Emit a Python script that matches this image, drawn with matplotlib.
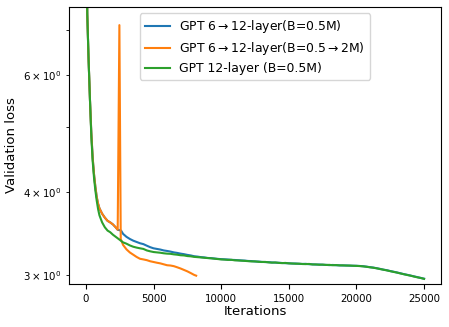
import numpy as np
import matplotlib
matplotlib.use("Agg")
import matplotlib.pyplot as plt

# ---- data ----
early_iters = [0, 100, 200, 300, 400, 500, 600, 700, 800, 900, 1000, 1200, 1400, 1600, 1800, 2000, 2250, 2500]
green_early = [10.9, 7.4, 6.3, 5.5, 4.85, 4.45, 4.2, 4.02, 3.88, 3.77, 3.69, 3.60, 3.54, 3.50, 3.48, 3.45, 3.42, 3.39]

late_start = 2750
green_late = [
    3.360, 3.345, 3.325, 3.310, 3.300, 3.292, 3.285, 3.268, 3.258, 3.250,
    3.246, 3.242, 3.236, 3.232, 3.230, 3.224, 3.220, 3.214, 3.212, 3.205,
    3.202, 3.196, 3.193, 3.190, 3.186, 3.183, 3.180, 3.176, 3.172, 3.168,
    3.166, 3.163, 3.164, 3.158, 3.157, 3.154, 3.152, 3.149, 3.146, 3.147,
    3.142, 3.140, 3.141, 3.136, 3.133, 3.135, 3.130, 3.128, 3.130, 3.125,
    3.124, 3.121, 3.122, 3.118, 3.117, 3.119, 3.113, 3.114, 3.110, 3.112,
    3.108, 3.109, 3.105, 3.107, 3.103, 3.104, 3.101, 3.102, 3.099, 3.098,
    3.096, 3.093, 3.088, 3.083, 3.078, 3.072, 3.064, 3.057, 3.050, 3.042,
    3.034, 3.027, 3.018, 3.010, 3.002, 2.995, 2.986, 2.978, 2.971, 2.962,
]

orange_pre_iters = [0, 100, 200, 300, 400, 500, 600, 700, 800, 900, 1000, 1200, 1400, 1600, 1800, 2000, 2200, 2350]
orange_pre = [10.9, 7.4, 6.3, 5.5, 4.9, 4.5, 4.25, 4.07, 3.93, 3.84, 3.78, 3.71, 3.66, 3.62, 3.60, 3.575, 3.54, 3.51]
orange_post_iters = [2475, 2575, 2750, 3000, 3250, 3500, 3750, 4000, 4250, 4500, 4750, 5000, 5250, 5500, 5750,
                     6000, 6250, 6500, 6750, 7000, 7250, 7500, 7750, 8000, 8150]
orange_post = [7.12, 3.40, 3.33, 3.28, 3.245, 3.22, 3.195, 3.175, 3.168, 3.16, 3.148, 3.14, 3.132, 3.125, 3.115,
               3.105, 3.102, 3.095, 3.083, 3.07, 3.055, 3.04, 3.022, 3.003, 2.995]

blue_first = 3.50   # at iteration 2600
blue_late = [
    3.460, 3.425, 3.400, 3.380, 3.365, 3.350, 3.340, 3.322, 3.305, 3.292,
    3.285, 3.278, 3.268, 3.262, 3.255, 3.246, 3.240, 3.232, 3.226, 3.218,
    3.212, 3.203, 3.199, 3.193, 3.190, 3.184, 3.182, 3.178, 3.174, 3.171,
    3.169, 3.167, 3.163, 3.162, 3.159, 3.157, 3.155, 3.151, 3.150, 3.145,
    3.145, 3.141, 3.139, 3.138, 3.135, 3.133, 3.132, 3.129, 3.127, 3.126,
    3.123, 3.124, 3.120, 3.119, 3.120, 3.116, 3.115, 3.112, 3.113, 3.110,
    3.109, 3.106, 3.108, 3.105, 3.104, 3.102, 3.103, 3.100, 3.100, 3.099,
    3.097, 3.094, 3.090, 3.084, 3.080, 3.073, 3.066, 3.058, 3.052, 3.043,
    3.036, 3.028, 3.020, 3.011, 3.004, 2.996, 2.988, 2.980, 2.972, 2.964,
]

labels = ["GPT 6$\\rightarrow$12-layer(B=0.5M)",
          "GPT 6$\\rightarrow$12-layer(B=0.5$\\rightarrow$2M)",
          "GPT 12-layer (B=0.5M)"]

# ---- assemble series ----
late_iters = late_start + 250 * np.arange(len(green_late))
green_x = list(early_iters) + list(late_iters)
green_y = list(green_early) + list(green_late)

orange_x = orange_pre_iters + orange_post_iters
orange_y = orange_pre + orange_post

blue_x = orange_pre_iters + [2600] + list(late_start + 250 * np.arange(len(blue_late)))
blue_y = orange_pre + [blue_first] + blue_late

# ---- plot ----
fig = plt.figure(figsize=(4.49, 3.27), dpi=100)
ax = fig.add_axes([69/449, 1 - 284/327, (441-69)/449, (284-7)/327])

lw = 1.5
ax.plot(blue_x, blue_y, color="#1f77b4", lw=lw, label=labels[0])
ax.plot(orange_x, orange_y, color="#ff7f0e", lw=lw, label=labels[1])
ax.plot(green_x, green_y, color="#2ca02c", lw=lw, label=labels[2])

ax.set_yscale("log")
ax.set_ylim(2.91, 7.58)
ax.set_xlim(-1250, 26250)
ax.set_xticks([0, 5000, 10000, 15000, 20000, 25000])

ax.tick_params(axis="both", which="both", labelsize=7.4)
ax.set_xlabel("Iterations", fontsize=9.5, labelpad=1)
ax.set_ylabel("Validation loss", fontsize=9.5)

ax.legend(loc="upper center", fontsize=8.9, handlelength=2.0,
          borderaxespad=0.5, labelspacing=0.4)

fig.savefig("out.png", dpi=100)
